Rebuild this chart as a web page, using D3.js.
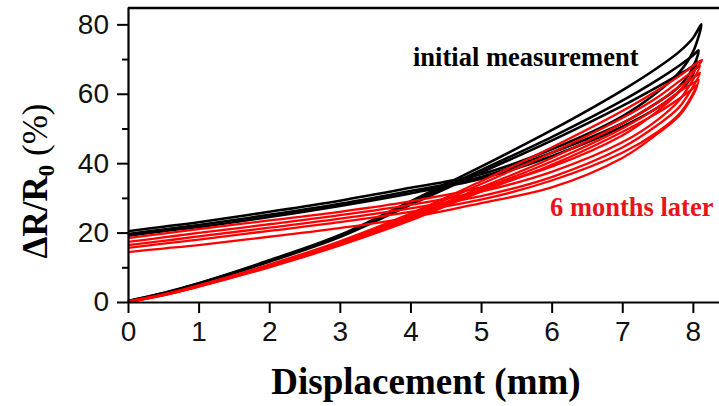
<!DOCTYPE html>
<html>
<head>
<meta charset="utf-8">
<script src="https://cdn.jsdelivr.net/npm/d3@7"></script>
<style>
  body { margin: 0; background: #fff; }
</style>
</head>
<body>
<div id="vis"></div>
<script>
// displacement grid shared by all curves (mm)
const xGrid = [0, 0.5, 1, 2, 3, 4, 5, 6, 7, 7.5, 7.8, 8];

// initial measurement: loading (0 -> peak) and unloading (peak -> 0), dR/R0 in %
const blackPeakX = [8.12, 8.08, 8.05];
const blackPeakY = [80, 72.5, 69.5];
const blackLoading = [
  [0.3, 2.6, 5.4, 12.0, 19.3, 29.0, 39.0, 49.5, 61.0, 67.5, 72.0, 76.0],
  [0.3, 2.5, 5.3, 11.8, 19.0, 28.5, 38.0, 47.5, 58.0, 64.0, 68.0, 71.0],
  [0.2, 2.4, 5.2, 11.6, 18.7, 28.0, 37.3, 46.5, 56.5, 62.0, 65.5, 68.0]
];
const blackUnloading = [
  [20.4, 21.7, 23.0, 26.0, 29.2, 32.9, 36.8, 44.0, 53.5, 60.5, 66.0, 72.0],
  [19.6, 20.9, 22.2, 25.1, 28.3, 32.0, 36.0, 43.0, 51.5, 57.5, 62.0, 67.5],
  [19.1, 20.4, 21.6, 24.5, 27.7, 31.3, 35.5, 42.0, 50.5, 56.0, 60.5, 65.5]
];

// 6 months later
const redPeakX = [8.13, 8.1, 8.1, 8.08, 8.06];
const redPeakY = [69.7, 68, 66, 64, 62.5];
const redLoading = [
  [0.2, 2.2, 4.8, 10.8, 17.5, 25.5, 34.8, 44.5, 55.0, 61.0, 65.0, 68.0],
  [0.2, 2.1, 4.7, 10.6, 17.2, 25.0, 34.0, 43.0, 53.0, 59.0, 63.5, 66.5],
  [0.1, 2.0, 4.6, 10.4, 16.9, 24.5, 33.0, 41.5, 51.5, 57.5, 62.0, 64.5],
  [0.1, 2.0, 4.5, 10.2, 16.6, 24.0, 32.4, 40.5, 50.0, 56.0, 60.5, 63.0],
  [0.0, 1.9, 4.4, 10.0, 16.3, 23.5, 31.8, 39.5, 49.0, 54.5, 58.5, 61.5]
];
const redUnloading = [
  [18.4, 19.7, 21.0, 23.5, 26.0, 29.0, 33.0, 39.0, 48.0, 55.0, 60.5, 66.0],
  [17.3, 18.6, 19.9, 22.4, 25.0, 28.0, 31.8, 37.5, 46.0, 52.5, 58.0, 64.0],
  [16.4, 17.6, 18.9, 21.4, 24.0, 27.0, 30.5, 36.0, 44.5, 51.0, 56.0, 62.0],
  [15.6, 16.8, 18.0, 20.5, 23.0, 26.0, 29.5, 35.0, 43.0, 49.0, 54.0, 60.0],
  [14.4, 15.4, 16.4, 18.8, 21.3, 24.3, 28.5, 33.0, 41.5, 48.5, 53.5, 59.5]
];

const xTicks = [0, 1, 2, 3, 4, 5, 6, 7, 8];
const yTicks = [0, 20, 40, 60, 80];
const yMinorTicks = [10, 30, 50, 70];

const W = 719, H = 406;
const margin = { top: 7, left: 128, right: 0, bottom: 104 };

let svg = d3.select('#vis')
  .append('svg')
  .attr('width', W)
  .attr('height', H)
  .style('display', 'block')
  .style('background-color', 'white');

let x = d3.scaleLinear().domain([0, 8.37]).range([margin.left, W - margin.right]);
let y = d3.scaleLinear().domain([0, 85]).range([H - margin.bottom, margin.top]);

// loop = loading points, peak, then unloading points back to zero
function loopPoints(load, unload, px, py) {
  let pts = xGrid.map((d, i) => [d, load[i]]);
  pts.push([px, py]);
  for (let i = xGrid.length - 1; i >= 0; i--) pts.push([xGrid[i], unload[i]]);
  return pts;
}

let line = d3.line()
  .x(d => x(d[0]))
  .y(d => y(d[1]))
  .curve(d3.curveCatmullRom.alpha(0.5));

let black = blackLoading.map((l, i) => loopPoints(l, blackUnloading[i], blackPeakX[i], blackPeakY[i]));
let red = redLoading.map((l, i) => loopPoints(l, redUnloading[i], redPeakX[i], redPeakY[i]));

svg.append('g').selectAll('path')
  .data(black)
  .join('path')
  .attr('d', line)
  .attr('fill', 'none')
  .attr('stroke', '#000')
  .attr('stroke-width', 2.6)
  .attr('stroke-linejoin', 'round');

svg.append('g').selectAll('path')
  .data(red)
  .join('path')
  .attr('d', line)
  .attr('fill', 'none')
  .attr('stroke', '#f00')
  .attr('stroke-width', 2.3)
  .attr('stroke-linejoin', 'round');

// axes
const tickFont = '"Liberation Sans", Arial, sans-serif';

let xAxis = svg.append('g')
  .attr('transform', `translate(0,${y(0)})`)
  .call(d3.axisBottom(x).tickValues(xTicks).tickSize(11).tickSizeOuter(0).tickPadding(8).tickFormat(d3.format('d')));

let yAxis = svg.append('g')
  .attr('transform', `translate(${x(0)},0)`)
  .call(d3.axisLeft(y).tickValues(yTicks).tickSize(11).tickSizeOuter(0).tickPadding(8).tickFormat(d3.format('d')));

svg.append('g')
  .attr('transform', `translate(${x(0)},0)`)
  .call(d3.axisLeft(y).tickValues(yMinorTicks).tickSize(6).tickSizeOuter(0).tickFormat(''))
  .select('.domain').remove();

[xAxis, yAxis].forEach(g => {
  g.select('.domain').attr('stroke-width', 2.2);
  g.selectAll('.tick text')
    .attr('font-family', tickFont)
    .attr('font-size', 28)
    .attr('fill', '#111');
});
svg.selectAll('.tick line').attr('stroke-width', 2);

// top frame line
svg.append('line')
  .attr('x1', x(0)).attr('x2', W)
  .attr('y1', y(85) + 1).attr('y2', y(85) + 1)
  .attr('stroke', '#000')
  .attr('stroke-width', 2.5);

// titles
const serif = '"Liberation Serif", "Times New Roman", serif';

svg.append('text')
  .attr('x', 426)
  .attr('y', 394)
  .attr('text-anchor', 'middle')
  .attr('font-family', serif)
  .attr('font-weight', 'bold')
  .attr('font-size', 37)
  .text('Displacement (mm)');

let yTitle = svg.append('text')
  .attr('transform', 'translate(47,181) rotate(-90)')
  .attr('text-anchor', 'middle')
  .attr('font-family', serif)
  .attr('font-weight', 'bold')
  .attr('font-size', 35);
yTitle.append('tspan').text('ΔR/R');
yTitle.append('tspan').attr('font-size', 23).attr('dy', 7).text('0');
yTitle.append('tspan').attr('dy', -7).attr('font-weight', 'normal').text(' (%)');

// annotations
svg.append('text')
  .attr('x', 413)
  .attr('y', 66)
  .attr('font-family', serif)
  .attr('font-weight', 'bold')
  .attr('font-size', 26.5)
  .attr('fill', '#000')
  .text('initial measurement');

svg.append('text')
  .attr('x', 550)
  .attr('y', 216)
  .attr('font-family', serif)
  .attr('font-weight', 'bold')
  .attr('font-size', 26.5)
  .attr('fill', '#e8141a')
  .text('6 months later');
</script>
</body>
</html>
